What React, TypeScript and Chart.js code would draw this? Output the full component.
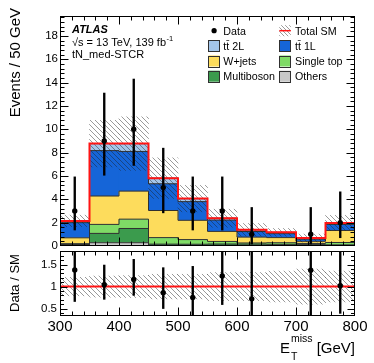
import React, { useEffect, useRef } from 'react';
import { Chart, registerables } from 'chart.js';

Chart.register(...registerables);

const FONT = "'Liberation Sans', Arial, Helvetica, sans-serif";

// ---------------- data ----------------
const binEdges = [300, 350, 400, 450, 500, 550, 600, 650, 700, 750, 800];
const binCenters = [325, 375, 425, 475, 525, 575, 625, 675, 725, 775];

const others = [0.05, 0.28, 0.28, 0.06, 0.05, 0.05, 0.04, 0.04, 0.04, 0.04];
const multiboson = [0.08, 0.8, 1.22, 0.1, 0.1, 0.12, 0.12, 0.1, 0.08, 0.06];
const singleTop = [0.07, 0.77, 0.8, 0.56, 0.4, 0.22, 0.1, 0.14, 0.1, 0.2];
const wJets = [0.5, 2.43, 2.4, 2.32, 1.65, 0.86, 0.5, 0.44, 0.18, 1.03];
const ttbar1L = [1.3, 3.89, 3.4, 2.29, 1.6, 0.97, 0.48, 0.34, 0.18, 0.52];
const ttbar2L = [0.15, 0.6, 0.67, 0.48, 0.26, 0.16, 0.15, 0.11, 0.1, 0.13];
const totalSMUnc = [0.49, 2.0, 2.3, 1.74, 1.13, 0.77, 0.54, 0.33, 0.34, 0.64];

const dataCounts = [3, 9, 10, 5, 3, 3, 1, null, 1, 2];
const dataLow = [1.37, 6.06, 6.9, 2.84, 1.37, 1.37, 0.17, null, 0.17, 0.71];
const dataHigh = [5.92, 13.1, 14.3, 8.38, 5.92, 5.92, 3.3, null, 3.3, 4.64];

const ratioValues = [1.38, 1.04, 1.16, 0.86, 0.75, 1.24, 0.72, null, 1.37, 1.02];
const ratioLow = [0.66, 0.71, 0.8, 0.5, 0.3, 0.59, 0.12, null, 0.2, 0.39];
const ratioHigh = [2.5, 1.49, 1.62, 1.43, 1.46, 2.4, 2.4, null, 4.5, 2.3];
const ratioBandUnc = [0.21, 0.24, 0.25, 0.28, 0.28, 0.32, 0.32, 0.35, 0.4, 0.35];

const mainYTicks = [0, 2, 4, 6, 8, 10, 12, 14, 16, 18];
const ratioYTicks = [0.5, 1, 1.5];
const ratioYTickLabels = ['0.5', '1', '1.5'];
const xTicks = [300, 400, 500, 600, 700, 800];

const legendLabels = ['Data', 'Total SM', 'tt\u0304 2L', 'tt\u0304 1L', 'W+jets', 'Single top', 'Multiboson', 'Others'];
const atlasLines = ['ATLAS', '\u221As = 13 TeV, 139 fb', 'tN_med-STCR'];

// ---------------- styles ----------------
const COL_OTHERS = '#c8c8c8';
const COL_MB = '#3b9b4d';
const COL_ST = '#7fdb66';
const COL_W = '#fddc5c';
const COL_TT1 = '#1565d8';
const COL_TT2 = '#a4c6ea';
const OUTLINE = '#303030';
const RED = '#ff1414';
const HATCH = 'rgba(30,30,30,0.45)';

function makeHatch(ctx: CanvasRenderingContext2D, color: string, size = 5): CanvasPattern {
  const c = document.createElement('canvas');
  c.width = size;
  c.height = size;
  const g = c.getContext('2d')!;
  g.strokeStyle = color;
  g.lineWidth = 1;
  g.beginPath();
  for (let k = -1; k <= 1; k++) {
    g.moveTo(k * size - 1, -1);
    g.lineTo(k * size + size + 1, size + 1);
  }
  g.stroke();
  return ctx.createPattern(c, 'repeat')!;
}

function isMultiple(v: number, step: number) {
  const r = v / step;
  return Math.abs(r - Math.round(r)) < 1e-6;
}

function drawFrameTicks(chart: any, o: any) {
  const ctx = chart.ctx;
  const a = chart.chartArea;
  const xs = chart.scales.x;
  const ys = chart.scales.y;
  ctx.save();
  ctx.strokeStyle = '#000';
  ctx.lineWidth = 1;
  ctx.beginPath();
  const L = Math.round(a.left) + 0.5;
  const R = Math.round(a.right) - 0.5;
  const T = Math.round(a.top) + 0.5;
  const B = Math.round(a.bottom) - 0.5;
  for (let v = xs.min + o.xMinor; v < xs.max - 1e-6; v += o.xMinor) {
    const px = Math.round(xs.getPixelForValue(v)) + 0.5;
    const len = isMultiple(v, o.xMajor) ? o.xMajLen : o.xMinLen;
    ctx.moveTo(px, B);
    ctx.lineTo(px, B - len);
    ctx.moveTo(px, T);
    ctx.lineTo(px, T + len);
  }
  const v0 = Math.ceil((ys.min + 1e-6) / o.yMinor) * o.yMinor;
  for (let v = v0; v < ys.max - 1e-6; v += o.yMinor) {
    const vv = Math.round(v * 1000) / 1000;
    const py = Math.round(ys.getPixelForValue(vv)) + 0.5;
    const len = isMultiple(vv, o.yMajor) ? o.yMajLen : o.yMinLen;
    ctx.moveTo(L, py);
    ctx.lineTo(L + len, py);
    ctx.moveTo(R, py);
    ctx.lineTo(R - len, py);
  }
  ctx.stroke();
  ctx.strokeRect(L, T, R - L, B - T);
  ctx.restore();
}

export default function App() {
  const mainRef = useRef<HTMLCanvasElement>(null);
  const ratioRef = useRef<HTMLCanvasElement>(null);

  useEffect(() => {
    const mc = mainRef.current!;
    const rc = ratioRef.current!;
    const hatchMain = makeHatch(mc.getContext('2d')!, HATCH);
    const hatchRatio = makeHatch(rc.getContext('2d')!, HATCH);
    const hatchLegend = makeHatch(mc.getContext('2d')!, HATCH, 4);

    Chart.defaults.font.family = FONT;
    Chart.defaults.color = '#000';

    const fills = [others, multiboson, singleTop, wJets, ttbar1L, ttbar2L];
    const fillColors = [COL_OTHERS, COL_MB, COL_ST, COL_W, COL_TT1, COL_TT2];
    let base = binCenters.map(() => 0);
    const levels: { lo: number[]; hi: number[] }[] = [];
    fills.forEach((arr) => {
      const hi = base.map((b, i) => b + arr[i]);
      levels.push({ lo: base, hi });
      base = hi;
    });
    const total = base;

    const mainDatasets: any[] = [];
    levels.forEach((lv, k) => {
      mainDatasets.push({
        type: 'bar',
        data: binCenters.map((x, i) => ({ x, y: [lv.lo[i], lv.hi[i]] })),
        backgroundColor: fillColors[k],
        borderWidth: 0,
        grouped: false,
        barPercentage: 1.02,
        categoryPercentage: 1,
        order: 10,
      });
    });
    levels.forEach((lv) => {
      mainDatasets.push({
        type: 'line',
        data: binEdges.map((x, i) => ({ x, y: lv.hi[Math.min(i, lv.hi.length - 1)] })),
        stepped: 'before',
        borderColor: OUTLINE,
        borderWidth: 1,
        pointRadius: 0,
        fill: false,
        order: 6,
      });
    });
    mainDatasets.push({
      type: 'bar',
      data: binCenters.map((x, i) => ({ x, y: [total[i] - totalSMUnc[i], total[i] + totalSMUnc[i]] })),
      backgroundColor: hatchMain,
      borderWidth: 0,
      grouped: false,
      barPercentage: 1,
      categoryPercentage: 1,
      order: 4,
    });
    mainDatasets.push({
      type: 'line',
      data: binEdges.map((x, i) => ({ x, y: total[Math.min(i, total.length - 1)] })),
      stepped: 'before',
      borderColor: RED,
      borderWidth: 2,
      pointRadius: 0,
      fill: false,
      order: 3,
    });
    const dIdx = binCenters.map((_, i) => i).filter((i) => dataCounts[i] !== null);
    mainDatasets.push({
      type: 'bar',
      data: dIdx.map((i) => ({ x: binCenters[i], y: [dataLow[i], dataHigh[i]] })),
      backgroundColor: '#000',
      borderWidth: 0,
      grouped: false,
      barThickness: 1.7,
      maxBarThickness: 1.7,
      order: 1,
    });
    mainDatasets.push({
      type: 'line',
      data: dIdx.map((i) => ({ x: binCenters[i], y: dataCounts[i] })),
      showLine: false,
      pointRadius: 2.7,
      pointBackgroundColor: '#000',
      pointBorderWidth: 0,
      order: 0,
    });

    const mainDecor = {
      id: 'mainDecor',
      afterDraw(chart: any) {
        drawFrameTicks(chart, {
          xMinor: 20, xMajor: 100, xMajLen: 8, xMinLen: 4,
          yMinor: 0.4, yMajor: 2, yMajLen: 8, yMinLen: 4,
        });
        const ctx = chart.ctx;
        ctx.save();
        // ATLAS label
        ctx.fillStyle = '#000';
        ctx.textBaseline = 'alphabetic';
        ctx.textAlign = 'left';
        ctx.font = `bold italic 11px ${FONT}`;
        ctx.fillText(atlasLines[0], 72, 33.3);
        ctx.font = `11px ${FONT}`;
        ctx.fillText(atlasLines[1], 72, 45.5);
        const w1 = ctx.measureText(atlasLines[1]).width;
        ctx.font = `7.5px ${FONT}`;
        ctx.fillText('-1', 72 + w1 + 0.5, 40.5);
        ctx.font = `11px ${FONT}`;
        ctx.fillText(atlasLines[2], 72, 57.8);

        // legend
        const colBox = [208.3, 279.3];
        const colText = [223.3, 295];
        const rows = [30.7, 45.7, 61, 76.2];
        const boxColors: Record<number, string> = { 2: COL_TT2, 3: COL_TT1, 4: COL_W, 5: COL_ST, 6: COL_MB, 7: COL_OTHERS };
        legendLabels.forEach((lab, k) => {
          const col = k % 2;
          const row = Math.floor(k / 2);
          const cy = rows[row];
          const bx = colBox[col];
          if (k === 0) {
            ctx.beginPath();
            ctx.fillStyle = '#000';
            ctx.arc(bx + 5.8, cy, 2.6, 0, Math.PI * 2);
            ctx.fill();
          } else if (k === 1) {
            ctx.fillStyle = hatchLegend;
            ctx.fillRect(bx, cy - 5.5, 11.5, 11);
            ctx.strokeStyle = RED;
            ctx.lineWidth = 1.5;
            ctx.beginPath();
            ctx.moveTo(bx, cy);
            ctx.lineTo(bx + 11.5, cy);
            ctx.stroke();
          } else {
            ctx.fillStyle = boxColors[k];
            ctx.fillRect(bx, cy - 5.5, 11.5, 11);
            ctx.strokeStyle = OUTLINE;
            ctx.lineWidth = 1;
            ctx.strokeRect(Math.round(bx) + 0.5, Math.round(cy - 5.5) + 0.5, 11, 11);
          }
          ctx.fillStyle = '#000';
          ctx.font = `10.7px ${FONT}`;
          ctx.fillText(lab, colText[col], cy + 3.9);
        });

        // y title
        ctx.save();
        ctx.translate(16, 8);
        ctx.rotate(-Math.PI / 2);
        ctx.textAlign = 'right';
        ctx.textBaseline = 'middle';
        ctx.font = `15px ${FONT}`;
        ctx.fillStyle = '#000';
        ctx.fillText('Events / 50 GeV', 0, 0);
        ctx.restore();
        ctx.restore();
      },
    };

    const main = new Chart(mc, {
      type: 'bar',
      data: { datasets: mainDatasets },
      options: {
        responsive: false,
        animation: false,
        events: [],
        layout: { padding: { left: 0, top: 16, right: 19, bottom: 3 } },
        plugins: { legend: { display: false }, tooltip: { enabled: false } },
        scales: {
          x: {
            type: 'linear',
            min: 300,
            max: 800,
            offset: false,
            display: false,
            afterBuildTicks: (s: any) => {
              s.ticks = xTicks.map((v) => ({ value: v }));
            },
          },
          y: {
            type: 'linear',
            min: 0,
            max: 19.7,
            grid: { display: false, drawTicks: false },
            border: { display: false },
            afterBuildTicks: (s: any) => {
              s.ticks = mainYTicks.map((v) => ({ value: v }));
            },
            ticks: { font: { size: 11.5, family: FONT }, color: '#000', padding: 2 },
            afterFit: (s: any) => {
              s.width = 60;
              s.paddingTop = 0;
              s.paddingBottom = 0;
            },
          },
        },
      } as any,
      plugins: [mainDecor],
    } as any);

    // ---------------- ratio ----------------
    const rIdx = binCenters.map((_, i) => i).filter((i) => ratioValues[i] !== null);
    const ratioDatasets: any[] = [
      {
        type: 'bar',
        data: binCenters.map((x, i) => ({ x, y: [1 - ratioBandUnc[i], 1 + ratioBandUnc[i]] })),
        backgroundColor: hatchRatio,
        borderWidth: 0,
        grouped: false,
        barPercentage: 1,
        categoryPercentage: 1,
        order: 4,
      },
      {
        type: 'line',
        data: [{ x: 300, y: 1 }, { x: 800, y: 1 }],
        borderColor: RED,
        borderWidth: 2,
        pointRadius: 0,
        fill: false,
        order: 3,
      },
      {
        type: 'bar',
        data: rIdx.map((i) => ({ x: binCenters[i], y: [ratioLow[i], ratioHigh[i]] })),
        backgroundColor: '#000',
        borderWidth: 0,
        grouped: false,
        barThickness: 1.7,
        maxBarThickness: 1.7,
        order: 1,
      },
      {
        type: 'line',
        data: rIdx.map((i) => ({ x: binCenters[i], y: ratioValues[i] })),
        showLine: false,
        pointRadius: 2.7,
        pointBackgroundColor: '#000',
        pointBorderWidth: 0,
        order: 0,
      },
    ];

    const ratioDecor = {
      id: 'ratioDecor',
      afterDraw(chart: any) {
        drawFrameTicks(chart, {
          xMinor: 20, xMajor: 100, xMajLen: 8, xMinLen: 4,
          yMinor: 0.1, yMajor: 0.5, yMajLen: 7, yMinLen: 3.5,
        });
        const ctx = chart.ctx;
        ctx.save();
        ctx.fillStyle = '#000';
        // y title
        ctx.save();
        ctx.translate(15, 36);
        ctx.rotate(-Math.PI / 2);
        ctx.textAlign = 'center';
        ctx.textBaseline = 'middle';
        ctx.font = `13px ${FONT}`;
        ctx.fillText('Data / SM', 0, 0);
        ctx.restore();
        // x title
        ctx.textAlign = 'left';
        ctx.textBaseline = 'alphabetic';
        const big = `15px ${FONT}`;
        const small = `10.5px ${FONT}`;
        ctx.font = big;
        const wGeV = ctx.measureText(' [GeV]').width;
        const wE = ctx.measureText('E').width;
        ctx.font = small;
        const wSub = Math.max(ctx.measureText('miss').width, ctx.measureText('T').width);
        const baseY = 105.7;
        let x = 355 - wGeV - wSub - wE - 1;
        ctx.font = big;
        ctx.fillText('E', x, baseY);
        x += wE + 1;
        ctx.font = small;
        ctx.fillText('miss', x, baseY - 11);
        ctx.fillText('T', x, baseY + 7.3);
        x += wSub;
        ctx.font = big;
        ctx.fillText(' [GeV]', x, baseY);
        ctx.restore();
      },
    };

    const ratio = new Chart(rc, {
      type: 'bar',
      data: { datasets: ratioDatasets },
      options: {
        responsive: false,
        animation: false,
        events: [],
        layout: { padding: { left: 0, top: 1, right: 19, bottom: 0 } },
        plugins: { legend: { display: false }, tooltip: { enabled: false } },
        scales: {
          x: {
            type: 'linear',
            min: 300,
            max: 800,
            offset: false,
            grid: { display: false, drawTicks: false },
            border: { display: false },
            afterBuildTicks: (s: any) => {
              s.ticks = xTicks.map((v) => ({ value: v }));
            },
            ticks: { font: { size: 15, family: FONT }, color: '#000', padding: 2, autoSkip: false, maxRotation: 0 },
            afterFit: (s: any) => {
              s.height = 47;
              s.paddingLeft = 0;
              s.paddingRight = 0;
            },
          },
          y: {
            type: 'linear',
            min: 0.33,
            max: 1.81,
            grid: { display: false, drawTicks: false },
            border: { display: false },
            afterBuildTicks: (s: any) => {
              s.ticks = ratioYTicks.map((v) => ({ value: v }));
            },
            ticks: {
              font: { size: 11.5, family: FONT },
              color: '#000',
              padding: 3,
              callback: (_v: any, idx: number) => ratioYTickLabels[idx],
            },
            afterFit: (s: any) => {
              s.width = 60;
              s.paddingTop = 0;
              s.paddingBottom = 0;
            },
          },
        },
      } as any,
      plugins: [ratioDecor],
    } as any);

    return () => {
      main.destroy();
      ratio.destroy();
    };
  }, []);

  return (
    <div style={{ position: 'fixed', left: 0, top: 0, width: 374, height: 363, background: '#fff' }}>
      <canvas ref={mainRef} width={374} height={250} style={{ position: 'absolute', left: 0, top: 0 }} />
      <canvas ref={ratioRef} width={374} height={116} style={{ position: 'absolute', left: 0, top: 247 }} />
    </div>
  );
}
